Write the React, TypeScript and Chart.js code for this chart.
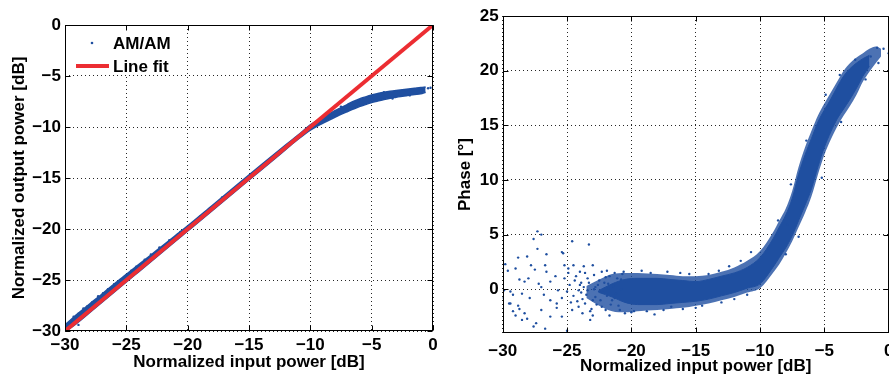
import React, { useEffect, useRef } from "react";
import { Chart, registerables } from "chart.js";

Chart.register(...registerables);

const BLUE = "#1f4fa0";
const BLUE_LIGHT = "rgba(31,79,160,0.8)";
const RED = "#ec2d32";
const FONT_FAMILY = '"Liberation Sans", Arial, Helvetica, sans-serif';

// ---------- Left panel: AM/AM ----------
const powerTicks = [-30, -25, -20, -15, -10, -5, 0];

const amBandX = [-30, -29, -28, -27, -26, -25, -24, -23, -22, -21, -20, -18, -16, -14, -12, -11, -10, -9.5, -9, -8.5, -8, -7.5, -7, -6.5, -6, -5.5, -5, -4.5, -4, -3.5, -3, -2.5, -2, -1.5, -1, -0.6];
const amBandUpper = [-29.4, -28.35, -27.35, -26.4, -25.4, -24.45, -23.5, -22.55, -21.6, -20.65, -19.7, -17.7, -15.7, -13.7, -11.75, -10.8, -9.8, -9.4, -9.05, -8.75, -8.4, -8.1, -7.8, -7.5, -7.25, -7.05, -6.85, -6.72, -6.6, -6.5, -6.42, -6.35, -6.28, -6.2, -6.12, -6.08];
const amBandLower = [-30.1, -29.2, -28.2, -27.2, -26.2, -25.2, -24.2, -23.2, -22.2, -21.2, -20.2, -18.2, -16.2, -14.2, -12.2, -11.2, -10.3, -9.95, -9.65, -9.35, -9.05, -8.75, -8.5, -8.25, -8.0, -7.8, -7.6, -7.45, -7.3, -7.18, -7.08, -6.98, -6.9, -6.82, -6.75, -6.6];

const amScatter: [number, number][] = [
  [-29.6, -29.2], [-29.3, -28.6], [-28.9, -28.3], [-28.5, -27.8], [-28.9, -29.4], [-28.2, -27.6],
  [-27.8, -27.2], [-27.3, -26.6], [-26.9, -26.3], [-26.5, -25.9], [-26.0, -25.4], [-25.5, -25.0],
  [-25.0, -24.5], [-24.6, -24.1], [-24.2, -23.7], [-23.5, -23.0], [-23.0, -22.5], [-22.3, -21.8],
  [-21.5, -21.1], [-20.6, -20.3], [-19.0, -18.8], [-17.2, -16.9], [-14.8, -14.6], [-12.5, -12.4],
  [-8.8, -9.4], [-7.5, -8.0], [-6.2, -7.5], [-4.0, -6.6], [-2.2, -6.4], [-1.0, -6.2],
  [-0.8, -6.3], [-0.4, -6.2], [-0.2, -6.15], [-1.9, -6.9], [-3.3, -7.2],
];

const lineFitX = [-30, 0];
const lineFitY = [-30, 0];

// ---------- Right panel: AM/PM ----------
const phaseTicks = [0, 5, 10, 15, 20, 25];

// outer (sparser) envelope of the AM/PM cloud
const pmOuterX = [-23.5, -22.5, -21.5, -20.5, -19.5, -18, -17, -16, -15, -14, -13, -12, -11, -10, -9, -8.5, -8, -7.5, -7, -6.5, -6, -5.5, -5, -4.5, -4, -3.5, -3, -2.5, -2, -1.5, -1, -0.6];
const pmOuterUpper = [0.3, 0.9, 1.4, 1.5, 1.5, 1.4, 1.3, 1.2, 1.2, 1.3, 1.6, 2.0, 2.6, 3.5, 5.2, 6.3, 7.4, 9.0, 11.2, 13.0, 14.5, 15.9, 17.0, 18.0, 19.0, 20.0, 20.7, 21.2, 21.6, 22.0, 22.2, 22.0];
const pmOuterLower = [-0.8, -1.5, -2.0, -2.1, -2.0, -1.9, -1.8, -1.7, -1.5, -1.3, -1.0, -0.7, -0.3, 0.1, 1.5, 2.3, 3.3, 4.4, 5.7, 7.0, 8.5, 10.5, 12.3, 13.7, 14.9, 15.9, 16.8, 17.8, 19.0, 19.9, 20.7, 21.3];

// dense core of the AM/PM cloud
const pmCoreX = [-22.5, -21.5, -20.5, -19.5, -18, -17, -16, -15, -14, -13, -12, -11, -10, -9, -8.5, -8, -7.5, -7, -6.5, -6, -5.5, -5, -4.5, -4, -3.5, -3, -2.5, -2, -1.5];
const pmCoreUpper = [-0.1, 0.5, 0.9, 1.0, 1.0, 0.9, 0.8, 0.7, 0.9, 1.2, 1.5, 2.0, 2.9, 4.6, 5.7, 6.8, 8.3, 10.5, 12.3, 13.8, 15.3, 16.4, 17.4, 18.5, 19.5, 20.2, 20.7, 21.1, 21.4];
const pmCoreLower = [-0.3, -0.7, -1.2, -1.4, -1.4, -1.3, -1.2, -1.1, -0.9, -0.6, -0.3, 0.1, 0.5, 2.0, 2.9, 3.8, 4.9, 6.3, 7.7, 9.2, 11.2, 13.0, 14.4, 15.6, 16.5, 17.4, 18.4, 19.5, 20.4];

const pmScatter: [number, number][] = [
  [-27.3, 5.3], [-27.0, 5.0], [-27.6, 4.6], [-27.3, 3.7], [-24.6, 4.4], [-23.3, 4.1], [-28.8, 2.9],
  [-28.1, 3.0], [-26.6, 3.2], [-29.8, 2.3], [-29.6, 1.7], [-29.0, 1.9], [-27.8, 2.2], [-27.5, 1.8],
  [-26.7, 2.2], [-26.6, 1.6], [-25.4, 3.4], [-25.3, 3.3], [-25.2, 2.2], [-24.9, 1.9], [-24.5, 2.2],
  [-23.7, 2.1], [-23.0, 2.2], [-21.9, 1.7], [-21.3, 1.5], [-28.7, 0.9], [-28.3, 0.7], [-28.0, 1.0],
  [-27.2, 0.5], [-27.0, 0.2], [-26.3, 0.7], [-25.9, 1.2], [-25.7, -0.1], [-29.9, -0.1], [-29.4, -0.2],
  [-29.2, -0.5], [-28.5, -0.4], [-27.9, -0.8], [-26.8, -0.5], [-26.3, -1.0], [-25.8, -1.3], [-25.4, -0.8],
  [-25.0, -0.2], [-24.5, -0.6], [-24.1, -0.1], [-23.9, 0.6], [-23.4, 1.0], [-22.8, 0.2], [-29.4, -1.3],
  [-28.7, -1.8], [-29.0, -2.4], [-28.3, -2.2], [-28.1, -2.7], [-27.6, -3.4], [-27.4, -3.1], [-26.7, -3.6],
  [-27.0, -1.9], [-26.3, -2.5], [-25.8, -1.7], [-25.4, -2.5], [-25.0, -3.8], [-24.6, -1.9], [-24.1, -1.6],
  [-23.8, -2.2], [-23.2, -2.8], [-23.0, -2.4], [-22.3, -1.6], [-21.7, -2.4], [-20.5, -2.2], [-18.2, -2.3],
  [-16.9, -1.6], [-28.5, -2.8], [-29.2, -2.0], [-28.8, -1.5], [-29.5, -1.3], [-30.0, -0.8],
  [-24.0, 0.4], [-23.5, -0.5], [-23.0, -1.0], [-22.5, 0.8], [-22.2, -0.3], [-21.8, 0.5], [-21.5, -1.0],
  [-22.7, -1.4], [-24.3, 1.2], [-23.6, 1.5], [-22.0, 1.1], [-21.2, -0.4], [-20.8, 0.9], [-21.0, -1.5],
  [-22.9, 0.0], [-23.8, -0.9], [-24.8, 0.4], [-25.2, 1.0], [-20.6, 1.6], [-19.8, -2.0], [-19.2, 1.7],
  [-18.5, 1.5], [-17.5, -1.9], [-16.0, -1.8], [-15.0, -1.7], [-14.5, -1.5], [-13.0, -1.2], [-14.0, 1.4],
  [-13.2, 1.7], [-12.4, 2.1], [-11.5, 2.6], [-10.7, 3.4], [-8.0, 3.2], [-7.9, 5.9], [-7.0, 4.8],
  [-5.2, 10.2], [-3.7, 15.3], [-1.8, 19.2], [-0.8, 20.7], [-0.9, 22.1], [0.0, 21.6], [-0.4, 22.0],
  [-1.4, 21.3], [-8.6, 6.3], [-7.6, 9.6], [-6.4, 13.6], [-4.9, 17.8], [-3.8, 19.6], [-2.6, 21.0],
  [-20.0, -2.1], [-18.8, -2.0], [-17.2, 1.6], [-16.2, 1.5], [-15.5, 1.4], [-12.0, -0.9], [-11.0, -0.5],
  [-24.2, -1.1], [-24.0, 1.6], [-23.9, -0.3], [-23.7, 0.2], [-23.6, -1.3], [-23.4, -0.1], [-23.3, 0.6],
  [-23.1, -1.8], [-22.9, 1.3], [-22.8, -0.7], [-22.6, 0.4], [-22.5, -0.2], [-22.4, -1.0], [-22.3, 1.6],
  [-22.1, 0.6], [-22.0, -1.9], [-21.9, -0.6], [-21.8, 0.1], [-21.7, 1.2], [-21.6, -1.4], [-21.4, 0.3],
  [-21.3, -0.8], [-21.1, 1.0], [-20.9, -1.9], [-20.8, 0.0], [-20.7, 1.4], [-24.4, 0.8], [-24.7, -1.2],
  [-24.9, 1.5], [-23.2, -2.0],
];

const minus = (v: number) => String(v).replace("-", "\u2212");

function pts(xs: number[], ys: number[]) {
  return xs.map((x, i) => ({ x, y: ys[i] }));
}
function pairs(p: [number, number][]) {
  return p.map(([x, y]) => ({ x, y }));
}

const framePlugin = {
  id: "frame",
  afterDatasetsDraw(chart: any) {
    const { ctx, chartArea: a, scales } = chart;
    ctx.save();
    ctx.strokeStyle = "#000";
    ctx.lineWidth = 1;
    ctx.setLineDash([]);
    const l = Math.round(a.left) + 0.5;
    const r = Math.round(a.right) - 0.5;
    const t = Math.round(a.top) + 0.5;
    const b = Math.round(a.bottom) - 0.5;
    ctx.strokeRect(l, t, r - l, b - t);
    const L = 5;
    ctx.beginPath();
    scales.x.ticks.forEach((tk: any) => {
      const p = Math.round(scales.x.getPixelForValue(tk.value)) + 0.5;
      ctx.moveTo(p, b);
      ctx.lineTo(p, b - L);
      ctx.moveTo(p, t);
      ctx.lineTo(p, t + L);
    });
    scales.y.ticks.forEach((tk: any) => {
      const p = Math.round(scales.y.getPixelForValue(tk.value)) + 0.5;
      ctx.moveTo(l, p);
      ctx.lineTo(l + L, p);
      ctx.moveTo(r, p);
      ctx.lineTo(r - L, p);
    });
    ctx.stroke();
    ctx.restore();
  },
};

const legendPlugin = {
  id: "innerLegend",
  afterDraw(chart: any) {
    const { ctx, chartArea: a } = chart;
    const ds = chart.data.datasets;
    ctx.save();
    ctx.fillStyle = "#fff";
    ctx.fillRect(a.left + 3, a.top + 8, 104, 42);
    ctx.font = `bold 17px ${FONT_FAMILY}`;
    ctx.textBaseline = "middle";
    ctx.textAlign = "left";
    ctx.fillStyle = BLUE;
    ctx.beginPath();
    ctx.arc(a.left + 27, a.top + 18, 1.3, 0, Math.PI * 2);
    ctx.fill();
    ctx.fillStyle = "#000";
    ctx.fillText(ds[2].label, a.left + 48, a.top + 19);
    ctx.strokeStyle = RED;
    ctx.lineWidth = 4;
    ctx.beginPath();
    ctx.moveTo(a.left + 11, a.top + 41);
    ctx.lineTo(a.left + 44, a.top + 41);
    ctx.stroke();
    ctx.fillStyle = "#000";
    ctx.fillText(ds[3].label, a.left + 48, a.top + 42);
    ctx.restore();
  },
};

function axis(opts: {
  min: number;
  max: number;
  ticks: number[];
  title: string;
  horizontal: boolean;
  size: number;
  titlePad: any;
  tickPad: number;
}) {
  return {
    type: "linear",
    min: opts.min,
    max: opts.max,
    afterBuildTicks: (scale: any) => {
      scale.ticks = opts.ticks.map((v) => ({ value: v }));
    },
    afterFit: (scale: any) => {
      if (opts.horizontal) scale.height = opts.size;
      else scale.width = opts.size;
    },
    grid: { color: "rgba(0,0,0,0.85)", lineWidth: 1, drawTicks: false },
    border: { display: false, dash: [1, 3] },
    ticks: {
      color: "#000",
      padding: opts.tickPad,
      maxRotation: 0,
      autoSkip: false,
      font: { family: FONT_FAMILY, size: 17, weight: "bold" },
      callback: (v: any) => minus(Number(v)),
    },
    title: {
      display: true,
      text: opts.title,
      color: "#000",
      padding: opts.titlePad,
      font: { family: FONT_FAMILY, size: 17, weight: "bold" },
    },
  };
}

function bandDatasets(xs: number[], lo: number[], hi: number[], color: string, edge: number, order: number) {
  return [
    {
      label: "band-lo",
      data: pts(xs, lo),
      showLine: true,
      borderColor: color,
      borderWidth: edge,
      pointRadius: 0,
      cubicInterpolationMode: "monotone",
      fill: false,
      order,
    },
    {
      label: "band-hi",
      data: pts(xs, hi),
      showLine: true,
      borderColor: color,
      borderWidth: edge,
      backgroundColor: color,
      pointRadius: 0,
      cubicInterpolationMode: "monotone",
      fill: "-1",
      order,
    },
  ];
}

function AmAmChart() {
  const ref = useRef<HTMLCanvasElement>(null);
  useEffect(() => {
    if (!ref.current) return;
    const chart = new Chart(ref.current, {
      type: "scatter",
      data: {
        datasets: [
          ...bandDatasets(amBandX, amBandLower, amBandUpper, BLUE, 1.5, 2),
          {
            label: "AM/AM",
            data: pairs(amScatter),
            backgroundColor: BLUE,
            pointRadius: 1.2,
            pointBorderWidth: 0,
            order: 1,
          },
          {
            label: "Line fit",
            data: pts(lineFitX, lineFitY),
            showLine: true,
            borderColor: RED,
            borderWidth: 4,
            pointRadius: 0,
            fill: false,
            order: 0,
          },
        ],
      } as any,
      options: {
        responsive: false,
        animation: false,
        devicePixelRatio: 1,
        layout: { padding: { left: 0, right: 12, top: 25, bottom: 0 } },
        plugins: { legend: { display: false }, tooltip: { enabled: false } },
        scales: {
          x: axis({
            min: -30,
            max: 0,
            ticks: powerTicks,
            title: "Normalized input power [dB]",
            horizontal: true,
            size: 46,
            titlePad: { top: 0, bottom: 4 },
            tickPad: 4,
          }),
          y: axis({
            min: -30,
            max: 0,
            ticks: powerTicks,
            title: "Normalized output power [dB]",
            horizontal: false,
            size: 65,
            titlePad: { top: 9, bottom: 0 },
            tickPad: 4,
          }),
        } as any,
      },
      plugins: [framePlugin, legendPlugin],
    } as any);
    return () => chart.destroy();
  }, []);
  return (
    <canvas
      ref={ref}
      width={445}
      height={377}
      style={{ position: "absolute", left: 0, top: 0, width: 445, height: 377 }}
    />
  );
}

function AmPmChart() {
  const ref = useRef<HTMLCanvasElement>(null);
  useEffect(() => {
    if (!ref.current) return;
    const chart = new Chart(ref.current, {
      type: "scatter",
      data: {
        datasets: [
          ...bandDatasets(pmOuterX, pmOuterLower, pmOuterUpper, BLUE_LIGHT, 0, 3),
          ...bandDatasets(pmCoreX, pmCoreLower, pmCoreUpper, BLUE, 1, 2),
          {
            label: "AM/PM",
            data: pairs(pmScatter),
            backgroundColor: BLUE,
            pointRadius: 1.2,
            pointBorderWidth: 0,
            order: 1,
          },
        ],
      } as any,
      options: {
        responsive: false,
        animation: false,
        devicePixelRatio: 1,
        layout: { padding: { left: 0, right: 26.3, top: 16, bottom: 0 } },
        plugins: { legend: { display: false }, tooltip: { enabled: false } },
        scales: {
          x: axis({
            min: -30,
            max: 0,
            ticks: powerTicks,
            title: "Normalized input power [dB]",
            horizontal: true,
            size: 44,
            titlePad: { top: 0, bottom: 0 },
            tickPad: 8,
          }),
          y: axis({
            min: -4,
            max: 25,
            ticks: phaseTicks,
            title: "Phase [°]",
            horizontal: false,
            size: 57.7,
            titlePad: { top: 10, bottom: 0 },
            tickPad: 4,
          }),
        } as any,
      },
      plugins: [framePlugin],
    } as any);
    return () => chart.destroy();
  }, []);
  return (
    <canvas
      ref={ref}
      width={470}
      height={377}
      style={{ position: "absolute", left: 445, top: 0, width: 470, height: 377 }}
    />
  );
}

export default function App() {
  return (
    <div
      style={{
        position: "fixed",
        left: 0,
        top: 0,
        width: 889,
        height: 377,
        overflow: "hidden",
        background: "#fff",
      }}
    >
      <AmAmChart />
      <AmPmChart />
    </div>
  );
}
